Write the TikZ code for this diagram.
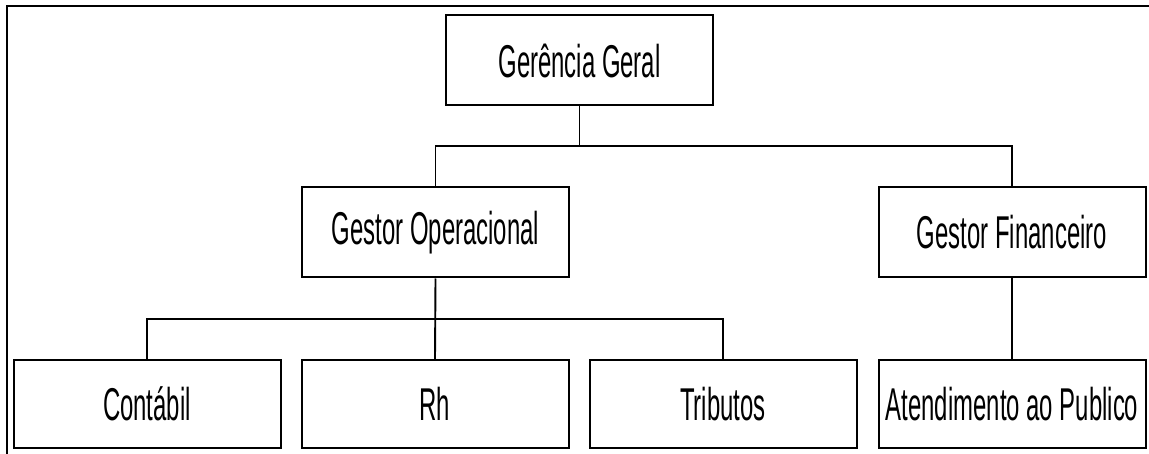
\documentclass[tikz,border=0pt]{standalone}
\usepackage{fontspec}
\setmainfont[FakeStretch=0.52]{Liberation Sans}
\begin{document}
\begin{tikzpicture}[x=1pt,y=-1pt,
  box/.style={draw=black,line width=2pt,fill=white,rectangle,minimum width=267pt,
    minimum height=90pt,inner sep=0pt,font=\fontsize{46}{50}\selectfont},
  link/.style={draw=black,line width=1.9pt}]
\useasboundingbox (0,0) rectangle (1149,454);
\draw[line width=2.2pt] (7,454) -- (7,6) -- (1149,6);
\node[box] (gg) at (579.5,60.5) {Gerência Geral};
\node[box] (go) at (435.5,232.5) {Gestor Operacional};
\node[box] (gf) at (1012,232.5) {Gestor Financeiro};
\node[box,minimum height=88pt] (ct) at (147,404) {Contábil};
\node[box,minimum height=88pt] (rh) at (435,404) {Rh};
\node[box,minimum height=88pt] (tr) at (723,404) {Tributos};
\node[box,minimum height=88pt] (at) at (1012,404) {Atendimento ao Publico};
\coordinate (bara) at (0,146);
\coordinate (barb) at (0,319);
\draw[link] (gg.south) -- (gg.south |- bara);
\draw[link] (go.north) -- (go.north |- bara) -- (gf.north |- bara) -- (gf.north);
\draw[link] (go.south) -- (rh.north);
\draw[link] (ct.north) -- (ct.north |- barb) -- (tr.north |- barb) -- (tr.north);
\draw[link] (gf.south) -- (at.north);
\end{tikzpicture}
\end{document}
